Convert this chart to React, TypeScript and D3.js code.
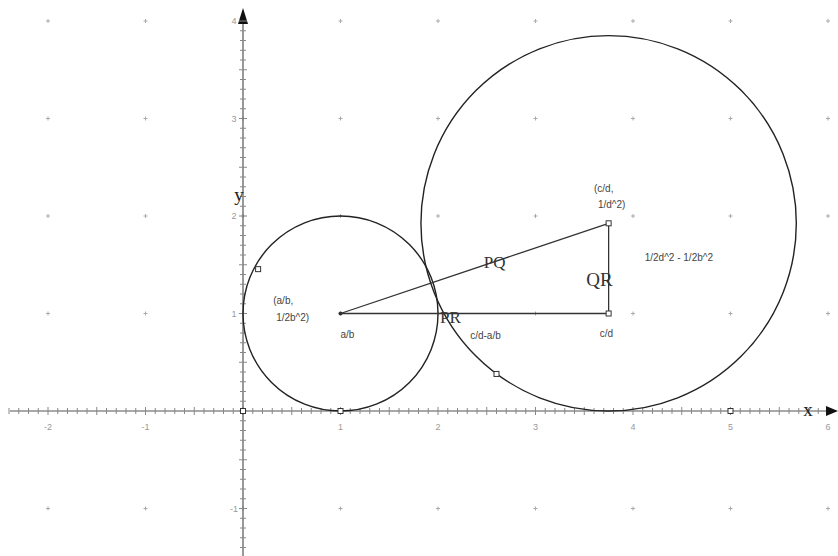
import React from "react";
import * as d3 from "d3";

// ---- data (math units) ----
const xTickValues = [-2, -1, 1, 2, 3, 4, 5, 6];
const yTickValues = [-1, 1, 2, 3, 4];
const gridXs = [-2, -1, 0, 1, 2, 3, 4, 5, 6];
const gridYs = [-1, 1, 2, 3, 4];
const smallCircle = { cx: 1, cy: 1, r: 1 };
const largeCircle = { cx: 3.75, cy: 1.925, r: 1.925 };
const pointP = [1, 1];
const pointQ = [3.75, 1.925];
const pointR = [3.75, 1];
const squareMarkers: [number, number][] = [
  [0, 0],
  [1, 0],
  [5, 0],
  [3.75, 1.925],
  [3.75, 1],
  [0.155, 1.455],
  [2.6, 0.38],
];
const smallLabels: { t: string; x: number; y: number }[] = [
  { t: "(a/b,", x: 0.31, y: 1.1 },
  { t: "1/2b^2)", x: 0.34, y: 0.92 },
  { t: "a/b", x: 1.0, y: 0.75 },
  { t: "(c/d,", x: 3.6, y: 2.25 },
  { t: "1/d^2)", x: 3.64, y: 2.08 },
  { t: "c/d", x: 3.66, y: 0.76 },
  { t: "1/2d^2 - 1/2b^2", x: 4.12, y: 1.54 },
  { t: "c/d-a/b", x: 2.33, y: 0.735 },
];
const bigLabels: { t: string; x: number; y: number; s: number }[] = [
  { t: "PQ", x: 2.47, y: 1.47, s: 17 },
  { t: "QR", x: 3.52, y: 1.28, s: 19 },
  { t: "PR", x: 2.02, y: 0.9, s: 17 },
];

export default function App() {
  const W = 838,
    H = 556;
  const unit = 97.5;
  const x = d3.scaleLinear().domain([0, 1]).range([243, 243 + unit]);
  const y = d3.scaleLinear().domain([0, 1]).range([411, 411 - unit]);

  const minorX = d3.range(-24, 60).map((i) => i / 10);
  const minorY = d3.range(-14, 41).map((i) => i / 10);
  const axisColor = "#555";

  return (
    <svg
      width={W}
      height={H}
      style={{ position: "absolute", left: 0, top: 0, background: "#fff" }}
      fontFamily="Liberation Sans, Arial, sans-serif"
    >
      {/* grid crosses */}
      {gridXs.map((gx) =>
        gridYs.map((gy) => (
          <g key={`g${gx}_${gy}`} stroke="#aaa" strokeWidth={1}>
            <line x1={x(gx) - 2} x2={x(gx) + 2} y1={y(gy)} y2={y(gy)} />
            <line x1={x(gx)} x2={x(gx)} y1={y(gy) - 2} y2={y(gy) + 2} />
          </g>
        ))
      )}
      {/* x axis */}
      <line x1={10} x2={828} y1={y(0)} y2={y(0)} stroke={axisColor} strokeWidth={1.2} />
      <path d={`M838,${y(0)} L826,${y(0) - 5} L826,${y(0) + 5} Z`} fill="#111" />
      {minorX.map((v) => (
        <line
          key={`mx${v}`}
          x1={x(v)}
          x2={x(v)}
          y1={y(0) - (Math.abs(v * 2 - Math.round(v * 2)) < 1e-6 ? 4 : 3)}
          y2={y(0) + (Math.abs(v * 2 - Math.round(v * 2)) < 1e-6 ? 4 : 3)}
          stroke="#888"
          strokeWidth={1}
        />
      ))}
      {/* y axis */}
      <line x1={x(0)} x2={x(0)} y1={556} y2={18} stroke={axisColor} strokeWidth={1.2} />
      <path d={`M${x(0)},8 L${x(0) - 5},24 L${x(0) + 5},24 Z`} fill="#111" />
      {minorY.map((v) => (
        <line
          key={`my${v}`}
          x1={x(0) - (Math.abs(v * 2 - Math.round(v * 2)) < 1e-6 ? 4 : 3)}
          x2={x(0) + (Math.abs(v * 2 - Math.round(v * 2)) < 1e-6 ? 4 : 3)}
          y1={y(v)}
          y2={y(v)}
          stroke="#888"
          strokeWidth={1}
        />
      ))}
      {/* tick labels */}
      {xTickValues.map((v) => (
        <text key={`xl${v}`} x={x(v)} y={y(0) + 19} fontSize={9} fill="#999" textAnchor="middle">
          {v}
        </text>
      ))}
      {yTickValues.map((v) => (
        <text key={`yl${v}`} x={x(0) - 9} y={y(v) + 3} fontSize={9} fill="#999" textAnchor="middle">
          {v}
        </text>
      ))}
      {/* axis names */}
      <text x={x(0) - 4} y={y(2.15)} fontFamily="Liberation Serif, serif" fontSize={19} fill="#222" textAnchor="middle">
        y
      </text>
      <text x={808} y={y(0) + 5} fontFamily="Liberation Serif, serif" fontSize={19} fill="#222" textAnchor="middle">
        x
      </text>
      {/* circles */}
      {[smallCircle, largeCircle].map((c, i) => (
        <circle
          key={`c${i}`}
          cx={x(c.cx)}
          cy={y(c.cy)}
          r={x(c.r) - x(0)}
          fill="none"
          stroke="#222"
          strokeWidth={1.4}
        />
      ))}
      {/* triangle */}
      <g stroke="#333" strokeWidth={1.3}>
        <line x1={x(pointP[0])} y1={y(pointP[1])} x2={x(pointQ[0])} y2={y(pointQ[1])} />
        <line x1={x(pointP[0])} y1={y(pointP[1])} x2={x(pointR[0])} y2={y(pointR[1])} />
        <line x1={x(pointR[0])} y1={y(pointR[1])} x2={x(pointQ[0])} y2={y(pointQ[1])} />
      </g>
      <circle cx={x(pointP[0])} cy={y(pointP[1])} r={2} fill="#333" />
      {squareMarkers.map(([mx, my], i) => (
        <rect
          key={`m${i}`}
          x={x(mx) - 2.5}
          y={y(my) - 2.5}
          width={5}
          height={5}
          fill="#fff"
          stroke="#333"
          strokeWidth={1}
        />
      ))}
      {/* labels */}
      {smallLabels.map((l, i) => (
        <text key={`s${i}`} x={x(l.x)} y={y(l.y)} fontSize={10} fill="#444">
          {l.t}
        </text>
      ))}
      {bigLabels.map((l, i) => (
        <text
          key={`b${i}`}
          x={x(l.x)}
          y={y(l.y)}
          fontFamily="Liberation Serif, serif"
          fontSize={l.s}
          fill="#333"
        >
          {l.t}
        </text>
      ))}
    </svg>
  );
}
